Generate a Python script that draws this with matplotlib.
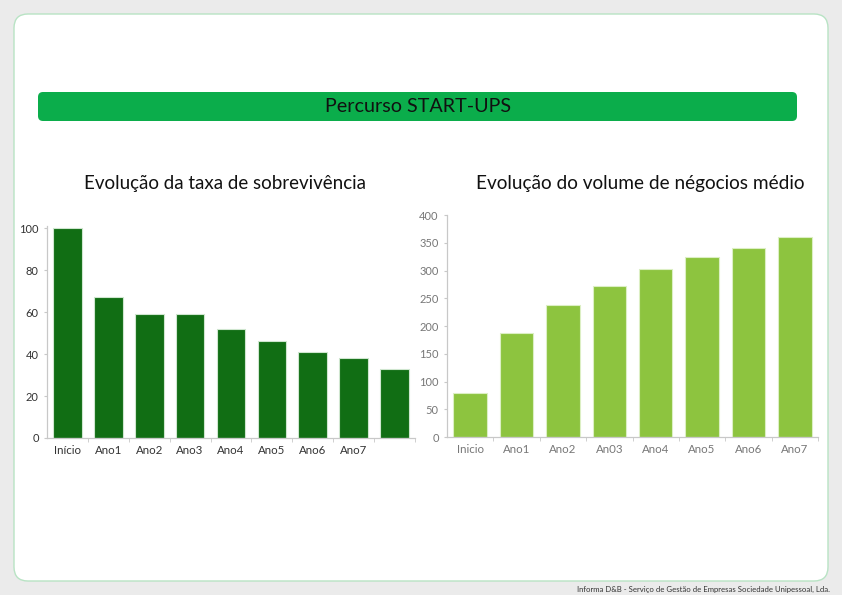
import numpy as np
import matplotlib.pyplot as plt
from matplotlib.patches import FancyBboxPatch

plt.rcParams['font.family'] = ['Lato', 'DejaVu Sans']

# dados
labels_sobrev = ['Início', 'Ano1', 'Ano2', 'Ano3', 'Ano4', 'Ano5', 'Ano6', 'Ano7', '']
taxa_sobrev = [100, 67, 59, 59, 52, 46, 41, 38, 33]

labels_volume = ['Inicio', 'Ano1', 'Ano2', 'An03', 'Ano4', 'Ano5', 'Ano6', 'Ano7']
volume_medio = [80, 188, 238, 272, 303, 325, 340, 360]

W, H = 842, 595
fig = plt.figure(figsize=(W / 100, H / 100), dpi=100)
fig.patch.set_facecolor('#ebebeb')

# fundo em coordenadas de pixel
bg = fig.add_axes([0, 0, 1, 1], zorder=-1)
bg.set_xlim(0, W)
bg.set_ylim(H, 0)
bg.axis('off')
bg.add_patch(FancyBboxPatch((14, 14), 814, 567, boxstyle='round,pad=0,rounding_size=14',
                            facecolor='white', edgecolor='#b8e3c4', linewidth=1))
bg.add_patch(FancyBboxPatch((38, 92), 759, 29, boxstyle='round,pad=0,rounding_size=5',
                            facecolor='#0bad4b', edgecolor='none'))
bg.text(418, 106, 'Percurso START-UPS', ha='center', va='center', fontsize=14.2, color='#111111')
bg.text(225, 184, 'Evolução da taxa de sobrevivência', ha='center', va='center',
        fontsize=13.5, color='#111111')
bg.text(640, 184, 'Evolução do volume de négocios médio', ha='center', va='center',
        fontsize=13.7, color='#111111')
bg.text(830, 589, 'Informa D&B - Serviço de Gestão de Empresas Sociedade Unipessoal, Lda.',
        ha='right', va='center', fontsize=5.6, color='#333333')


def style_axes(ax, n, tick_color):
    for s in ['top', 'right']:
        ax.spines[s].set_visible(False)
    for s in ['left', 'bottom']:
        ax.spines[s].set_color('#c8c8c8')
        ax.spines[s].set_linewidth(0.9)
    ax.set_facecolor('none')
    ax.set_xlim(-0.5, n - 0.5)
    ax.set_xticks(np.arange(n) + 0.5, minor=True)
    ax.tick_params(axis='x', which='major', length=0, pad=5, labelsize=8.3, labelcolor=tick_color)
    ax.tick_params(axis='x', which='minor', length=3, color='#c8c8c8')
    ax.tick_params(axis='y', length=2, color='#c8c8c8', pad=4, labelsize=8, labelcolor=tick_color)


# gráfico da esquerda
ax1 = fig.add_axes([47 / W, 1 - 438 / H, 368 / W, 212 / H])
x1 = np.arange(len(taxa_sobrev))
ax1.bar(x1, taxa_sobrev, width=0.7, color='#116e14', edgecolor='#cfe6cf', linewidth=0.8)
ax1.set_ylim(0, 101)
ax1.set_yticks([0, 20, 40, 60, 80, 100])
ax1.set_xticks(x1)
ax1.set_xticklabels(labels_sobrev)
style_axes(ax1, len(taxa_sobrev), '#333333')

# gráfico da direita
ax2 = fig.add_axes([447 / W, 1 - 437 / H, 371 / W, 222 / H])
x2 = np.arange(len(volume_medio))
ax2.bar(x2, volume_medio, width=0.72, color='#8dc43f', edgecolor='#dcefc4', linewidth=0.8)
ax2.set_ylim(0, 400)
ax2.set_yticks(np.arange(0, 401, 50))
ax2.set_xticks(x2)
ax2.set_xticklabels(labels_volume)
style_axes(ax2, len(volume_medio), '#777777')

fig.savefig('out.png', dpi=100, facecolor=fig.get_facecolor())
